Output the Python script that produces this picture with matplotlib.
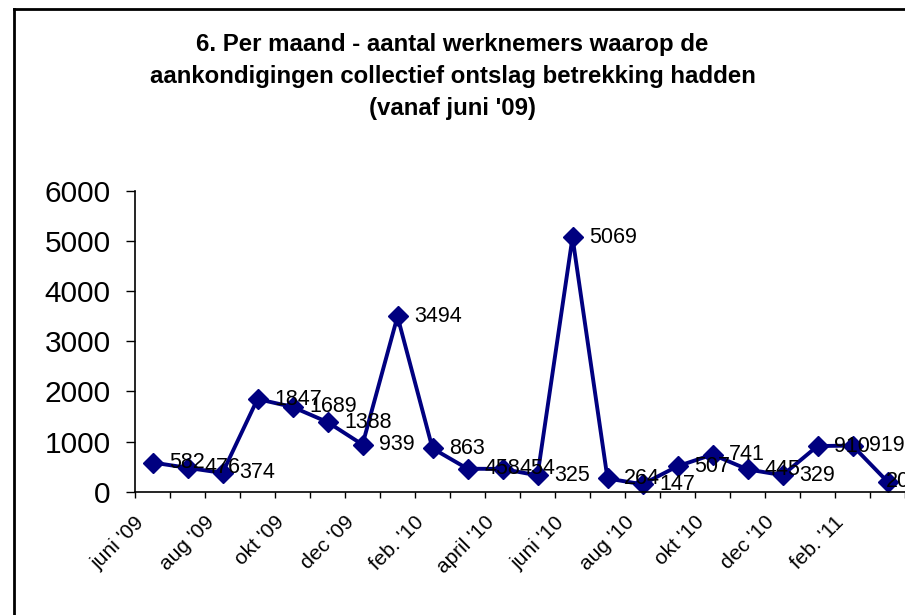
import numpy as np
import matplotlib
from matplotlib import pyplot as plt
from matplotlib.lines import Line2D
from matplotlib.transforms import ScaledTranslation
plt.switch_backend('agg')

plt.rcParams['font.family'] = ['Liberation Sans', 'DejaVu Sans']

months = ["juni '09", "jul '09", "aug '09", "sep '09", "okt '09", "nov '09",
          "dec '09", "jan. '10", "feb. '10", "maart '10", "april '10", "mei '10",
          "juni '10", "juli '10", "aug '10", "sep '10", "okt '10", "nov '10",
          "dec '10", "jan. '11", "feb. '11", "maart '11"]
werknemers = [582, 476, 374, 1847, 1689, 1388, 939, 3494, 863, 458, 454, 325,
              5069, 264, 147, 507, 741, 445, 329, 910, 919, 200]
yticks = [0, 1000, 2000, 3000, 4000, 5000, 6000]

title = ("6. Per maand - aantal werknemers waarop de\n"
         "aankondigingen collectief ontslag betrekking hadden\n"
         "(vanaf juni '09)")

fig = plt.figure(figsize=(9.05, 6.15), dpi=100)
ax = fig.add_axes([135 / 905, 1 - 491.7 / 615, 770 / 905, 301 / 615])

x = np.arange(len(werknemers))
ax.plot(x, werknemers, color='#000080', lw=2.8, marker='D', markersize=10.5,
        markerfacecolor='#000080', markeredgecolor='#000080', clip_on=False)

# data labels to the right of each point (last one sits on the point, as in the original)
for i, v in enumerate(werknemers):
    off = -1 if i == len(werknemers) - 1 else 12
    ax.annotate(str(v), (i, v), xytext=(off, 0), textcoords='offset points',
                ha='left', va='center', fontsize=15.5, color='black',
                annotation_clip=False)

ax.set_xlim(-0.5, len(werknemers) - 0.5)
ax.set_ylim(0, 6000)
ax.set_yticks(yticks)
ax.set_yticklabels([str(t) for t in yticks], fontsize=21.5)
ax.tick_params(axis='y', direction='out', length=6.5, width=1, pad=11)

# ticks on category boundaries, labels on every other category centre
ax.set_xticks(np.arange(-0.5, len(werknemers), 1.0))
ax.set_xticklabels([])
ax.tick_params(axis='x', which='major', direction='out', length=4.5, width=1)
ax.set_xticks(x[::2], minor=True)
ax.set_xticklabels(months[::2], minor=True, rotation=45, ha='right', va='top',
                   rotation_mode='anchor', fontsize=15)
ax.tick_params(axis='x', which='minor', length=0, pad=0)
shift = ScaledTranslation(-0.18, -0.21, fig.dpi_scale_trans)
for lab in ax.get_xticklabels(minor=True):
    lab.set_transform(lab.get_transform() + shift)

for s in ['top', 'right']:
    ax.spines[s].set_visible(False)
for s in ['left', 'bottom']:
    ax.spines[s].set_linewidth(1.2)
ax.patch.set_visible(False)

fig.text(0.5, 1 - 77 / 615, title, ha='center', va='center', fontsize=17.3,
         fontweight='bold', linespacing=1.5)

# chart border (only the left and top edges fall inside the picture)
fig.add_artist(Line2D([14 / 905, 14 / 905], [0, 1 - 9 / 615], color='black', lw=2))
fig.add_artist(Line2D([14 / 905, 1], [1 - 9 / 615, 1 - 9 / 615], color='black', lw=2))

plt.savefig('out.png', dpi=100)
